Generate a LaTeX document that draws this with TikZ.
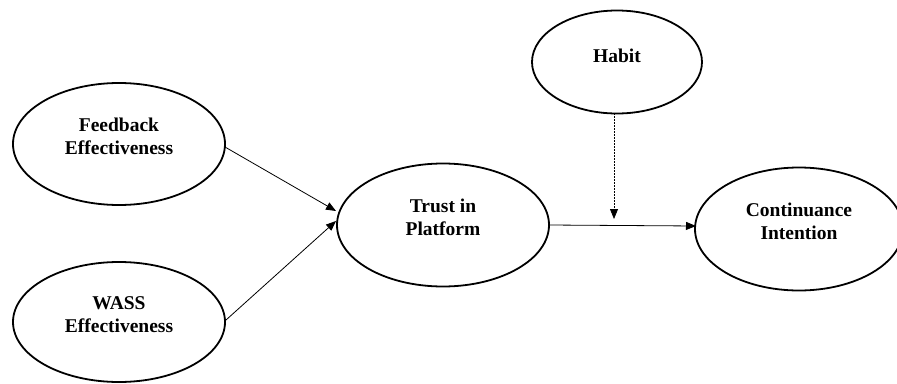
\documentclass[tikz,border=0pt]{standalone}
\usepackage{fontspec}
\setmainfont{Liberation Serif}
\usetikzlibrary{shapes.geometric,arrows.meta}
\newcommand\uplbl[1]{\raisebox{6pt}[\height][\depth]{\begin{tabular}{@{}c@{}}#1\end{tabular}}}
\tikzset{
  construct/.style={ellipse, draw, line width=1.8pt, inner sep=0pt,
    font=\fontsize{19.5}{23}\selectfont\bfseries},
  path/.style={line width=0.8pt, -{Triangle[length=10pt,width=8pt]}},
  modpath/.style={line width=0.8pt, dash pattern=on 2pt off 1pt, -{Triangle[length=10pt,width=8pt]}}
}
\begin{document}
\begin{tikzpicture}[x=1pt,y=-1pt]
\useasboundingbox (0,0) rectangle (897,383);
\node[construct, minimum width=212pt, minimum height=122pt] (fb) at (119,144) {\uplbl{Feedback\\Effectiveness}};
\node[construct, minimum width=212pt, minimum height=120pt] (wass) at (119,322) {\uplbl{WASS\\Effectiveness}};
\node[construct, minimum width=212pt, minimum height=123pt] (trust) at (443,225) {\uplbl{Trust in\\Platform}};
\node[construct, minimum width=170pt, minimum height=103pt] (habit) at (617,62) {\raisebox{0pt}[0pt][0pt]{Habit}};
\node[construct, minimum width=208pt, minimum height=123pt] (ci) at (799,229) {\uplbl{Continuance\\Intention}};
\coordinate (fbout) at (225,147);
\coordinate (wassout) at (226,320);
\coordinate (tin1) at (336,211);
\coordinate (tin2) at (336,221);
\coordinate (tout) at (549,225);
\coordinate (ciin) at (696,226);
\coordinate (hout) at (614,113);
\coordinate (mod) at (614,219);
\draw[path] (fbout) -- (tin1);
\draw[path] (wassout) -- (tin2);
\draw[path] (tout) -- (ciin);
\draw[modpath] (hout) -- (mod);
\end{tikzpicture}
\end{document}
